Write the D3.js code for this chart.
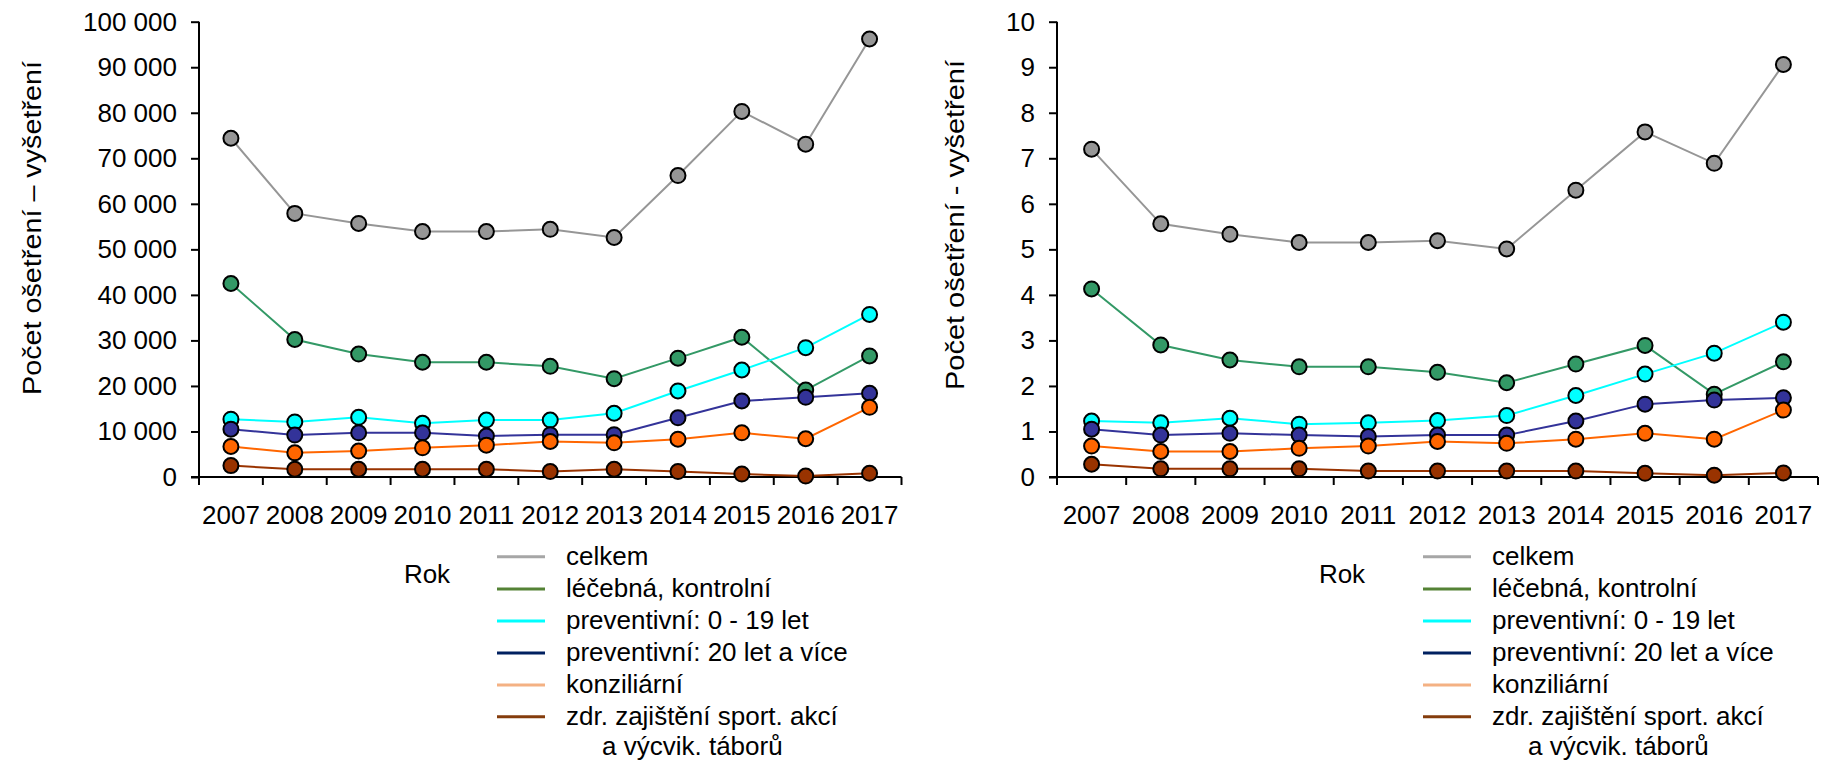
<!DOCTYPE html>
<html><head><meta charset="utf-8">
<script src="https://cdn.jsdelivr.net/npm/d3@7"></script>
<style>html,body{margin:0;padding:0;background:#fff;}svg{display:block;font-family:"Liberation Sans",Arial,sans-serif;}</style>
</head><body>
<svg id="c" width="1823" height="763"></svg>
<script>
const years = ["2007","2008","2009","2010","2011","2012","2013","2014","2015","2016","2017"];
const seriesNames = ["celkem","léčebná, kontrolní","preventivní: 0 - 19 let","preventivní: 20 let a více","konziliární","zdr. zajištění sport. akcí"];
const legendSecondLine = "a výcvik. táborů";
const lineColors = ["#969696","#339966","#00ffff","#333399","#ff6600","#993300"];
const legendColors = ["#a6a6a6","#548235","#00ffff","#002060","#f4b183","#843c0c"];

// Left chart: absolute counts
const absCelkem   = [74400,57900,55700,53900,53900,54400,52600,66200,80300,73100,96200];
const absLecebna  = [42500,30200,27000,25200,25200,24300,21600,26100,30700,19100,26600];
const absPrev019  = [12700,12100,13100,11800,12500,12500,14000,18900,23500,28400,35700];
const absPrev20   = [10500,9200,9700,9700,9000,9300,9300,13000,16700,17500,18400];
const absKonzil   = [6700,5300,5700,6400,7000,7800,7500,8300,9700,8400,15300];
const absSport    = [2500,1700,1700,1700,1700,1200,1700,1200,650,200,800];
const leftTicks   = [0,10000,20000,30000,40000,50000,60000,70000,80000,90000,100000];

// Right chart: per population
const relCelkem   = [7.20,5.56,5.33,5.15,5.15,5.19,5.01,6.30,7.58,6.89,9.06];
const relLecebna  = [4.13,2.90,2.57,2.42,2.42,2.30,2.07,2.48,2.89,1.82,2.53];
const relPrev019  = [1.23,1.19,1.29,1.16,1.19,1.24,1.35,1.79,2.26,2.72,3.40];
const relPrev20   = [1.05,0.92,0.96,0.92,0.89,0.92,0.92,1.23,1.60,1.69,1.74];
const relKonzil   = [0.68,0.56,0.56,0.63,0.68,0.78,0.74,0.83,0.96,0.83,1.47];
const relSport    = [0.28,0.18,0.18,0.18,0.13,0.13,0.13,0.13,0.08,0.04,0.09];
const rightTicks  = [0,1,2,3,4,5,6,7,8,9,10];

const svg = d3.select("#c");
const FS = 26;

function chart(cfg){
  const g = svg.append("g");
  const x = d3.scaleBand().domain(years).range([cfg.x0, cfg.x1]);
  const y = d3.scaleLinear().domain([0, cfg.max]).range([cfg.yBottom, cfg.yTop]);

  // Y axis
  const ya = g.append("g").attr("transform",`translate(${cfg.x0},0)`)
    .call(d3.axisLeft(y).tickValues(cfg.ticks).tickSize(8).tickPadding(14).tickFormat(cfg.fmt));
  ya.select(".domain").attr("stroke","#000").attr("stroke-width",2).attr("d",`M0,${cfg.yTop}V${cfg.yBottom+8}`);
  ya.selectAll(".tick line").attr("stroke","#000").attr("stroke-width",2);
  ya.selectAll(".tick text").attr("font-size",FS).attr("fill","#000").attr("font-family","Liberation Sans, Arial, sans-serif");

  // X axis
  const xa = g.append("g").attr("transform",`translate(0,${cfg.yBottom})`);
  xa.append("path").attr("d",`M${cfg.x0-8},0H${cfg.x1}`).attr("stroke","#000").attr("stroke-width",2).attr("fill","none");
  const bounds = years.map(d=>x(d)).concat([cfg.x1]);
  xa.selectAll("line.bt").data(bounds).join("line").attr("class","bt")
    .attr("x1",d=>d).attr("x2",d=>d).attr("y1",0).attr("y2",8).attr("stroke","#000").attr("stroke-width",2);
  xa.selectAll("text.yl").data(years).join("text").attr("class","yl")
    .attr("x",d=>x(d)+x.bandwidth()/2).attr("y",47).attr("text-anchor","middle")
    .attr("font-size",FS).attr("fill","#000").text(d=>d);

  // Y title
  g.append("text").attr("transform",`translate(${cfg.titleX},${cfg.titleY}) rotate(-90)`)
    .attr("text-anchor","middle").attr("font-size",FS).attr("fill","#000")
    .attr("textLength",cfg.titleLen).attr("lengthAdjust","spacingAndGlyphs").text(cfg.title);

  // Series
  const line = d3.line().x((d,i)=>x(years[i])+x.bandwidth()/2).y(d=>y(d));
  cfg.data.forEach((vals,si)=>{
    g.append("path").datum(vals).attr("d",line).attr("fill","none")
      .attr("stroke",lineColors[si]).attr("stroke-width",2);
    g.selectAll(null).data(vals).join("circle")
      .attr("cx",(d,i)=>x(years[i])+x.bandwidth()/2).attr("cy",d=>y(d)).attr("r",7.5)
      .attr("fill",lineColors[si]).attr("stroke","#000").attr("stroke-width",2);
  });

  // Rok label
  g.append("text").attr("x",cfg.rokX).attr("y",583).attr("text-anchor","middle")
    .attr("font-size",FS).attr("fill","#000").text("Rok");

  // Legend
  const ly = [556.7,589,621,653,685,716.7];
  seriesNames.forEach((n,i)=>{
    g.append("line").attr("x1",cfg.legX).attr("x2",cfg.legX+48).attr("y1",ly[i]).attr("y2",ly[i])
      .attr("stroke",legendColors[i]).attr("stroke-width",3);
    g.append("text").attr("x",cfg.legX+69).attr("y",ly[i]+8).attr("font-size",FS).attr("fill","#000").text(n);
  });
  g.append("text").attr("x",cfg.legX+105).attr("y",755).attr("font-size",FS).attr("fill","#000").text(legendSecondLine);
}

const spaceFmt = d => d3.format(",")(d).replace(/,/g," ");

chart({x0:199, x1:901.5, yTop:21.7, yBottom:477, max:100000, ticks:leftTicks, fmt:spaceFmt,
  title:"Počet ošetření – vyšetření", titleX:41, titleY:228, titleLen:334, rokX:427, legX:497,
  data:[absCelkem,absLecebna,absPrev019,absPrev20,absKonzil,absSport]});
chart({x0:1057, x1:1818, yTop:21.7, yBottom:477, max:10, ticks:rightTicks, fmt:d=>String(d),
  title:"Počet ošetření - vyšetření", titleX:964, titleY:225, titleLen:330, rokX:1342, legX:1423,
  data:[relCelkem,relLecebna,relPrev019,relPrev20,relKonzil,relSport]});
</script>
</body></html>
